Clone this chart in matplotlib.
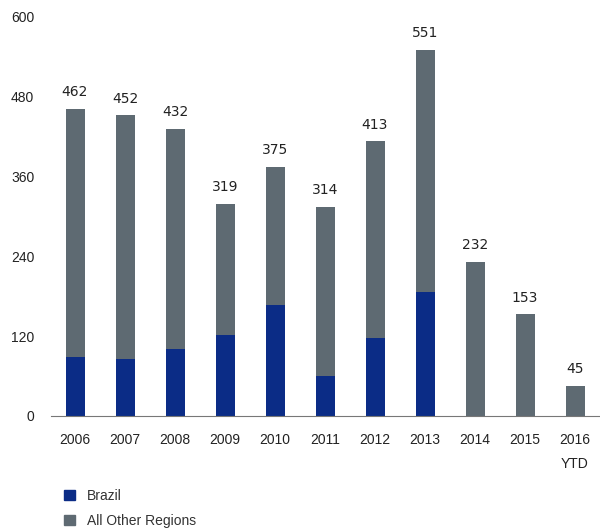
import matplotlib.pyplot as plt
import numpy as np
from matplotlib.patches import Patch

# values
years = ['2006', '2007', '2008', '2009', '2010', '2011', '2012', '2013', '2014', '2015', '2016\nYTD']
totals = [462, 452, 432, 319, 375, 314, 413, 551, 232, 153, 45]
brazil = [88, 86, 100, 122, 167, 60, 117, 187, 0, 0, 0]
other = [t - b for t, b in zip(totals, brazil)]

blue = '#0b2c86'
grey = '#5e6a72'

plt.rcParams['font.family'] = ['Liberation Sans', 'DejaVu Sans']

fig = plt.figure(figsize=(6, 5.31), dpi=100)
ax = fig.add_axes([0.085, 0.2166, 0.915, 0.7514])
x = np.arange(len(years))
ax.bar(x, brazil, width=0.38, color=blue)
ax.bar(x, other, width=0.38, bottom=brazil, color=grey)

for xi, t in zip(x, totals):
    ax.annotate(str(t), (xi, t), xytext=(0, 7), textcoords='offset points',
                ha='center', va='bottom', fontsize=10, color='#222222',
                family=['DejaVu Sans'])

ax.set_xlim(-0.48, 10.5)
ax.set_ylim(0, 600)
ax.set_yticks([0, 120, 240, 360, 480, 600])
ax.set_xticks(x)
ax.set_xticklabels(years, fontsize=10, linespacing=1.9)
ax.tick_params(axis='both', length=0, labelsize=10, colors='#222222')
ax.tick_params(axis='y', pad=12)
ax.tick_params(axis='x', pad=12)
for s in ['top', 'right', 'left']:
    ax.spines[s].set_visible(False)
ax.spines['bottom'].set_color('#777777')

handles = [Patch(color=blue, label='Brazil'), Patch(color=grey, label='All Other Regions')]
fig.legend(handles=handles, loc='upper left', bbox_to_anchor=(0.085, 0.103),
           frameon=False, fontsize=10, handlelength=0.8, handleheight=0.8,
           handletextpad=0.9, labelspacing=0.8, labelcolor='#333333')

fig.savefig('out.png', dpi=100)
